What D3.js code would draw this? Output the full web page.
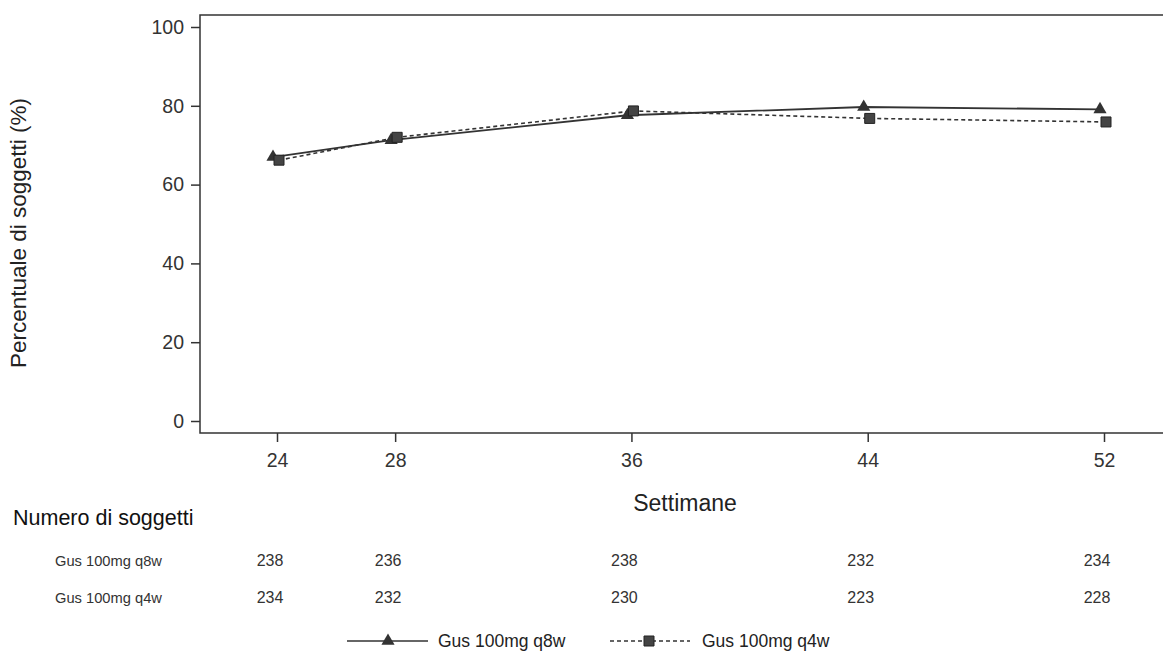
<!DOCTYPE html>
<html>
<head>
<meta charset="utf-8">
<script src="https://cdn.jsdelivr.net/npm/d3@7"></script>
<style>
  body { margin: 0; background: #fff; }
  svg { font-family: "Liberation Sans", Arial, sans-serif; }
</style>
</head>
<body>
<svg id="chart" width="1163" height="653"></svg>
<script>
// data
const weeks = [24, 28, 36, 44, 52];
const q8w = [67.0, 71.3, 77.6, 79.7, 79.1];
const q4w = [66.2, 72.0, 78.7, 76.8, 75.9];
const nQ8w = [238, 236, 238, 232, 234];
const nQ4w = [234, 232, 230, 223, 228];
const yTicks = [0, 20, 40, 60, 80, 100];
const seriesNames = ["Gus 100mg q8w", "Gus 100mg q4w"];

const svg = d3.select("#chart");
const ink = "#333";
const fontFam = "Liberation Sans, Arial, sans-serif";

const x = d3.scaleLinear().domain([24, 52]).range([277, 1104]);
const y = d3.scaleLinear().domain([0, 100]).range([421, 27]);

const plotLeft = 200, plotTop = 15, plotBottom = 433, plotRight = 1163;

// frame: top line, left axis, bottom axis
svg.append("path")
    .attr("d", `M${plotRight},${plotTop}H${plotLeft}V${plotBottom}H${plotRight}`)
    .attr("fill", "none")
    .attr("stroke", ink)
    .attr("stroke-width", 1.5);

// y axis ticks
const yAxis = svg.append("g")
    .attr("transform", `translate(${plotLeft},0)`)
    .call(d3.axisLeft(y).tickValues(yTicks).tickSize(9).tickPadding(7));
yAxis.select(".domain").remove();
yAxis.selectAll("line").attr("stroke", ink).attr("stroke-width", 1.5);
yAxis.selectAll("text").attr("font-size", 19.5).attr("fill", ink)
    .attr("font-family", fontFam);

// x axis ticks
const xAxis = svg.append("g")
    .attr("transform", `translate(0,${plotBottom})`)
    .call(d3.axisBottom(x).tickValues(weeks).tickSize(9).tickPadding(11));
xAxis.select(".domain").remove();
xAxis.selectAll("line").attr("stroke", ink).attr("stroke-width", 1.5);
xAxis.selectAll("text").attr("font-size", 19.5).attr("fill", ink)
    .attr("font-family", fontFam);

// axis titles
svg.append("text")
    .attr("transform", "translate(26,233) rotate(-90)")
    .attr("text-anchor", "middle")
    .attr("font-size", 22.5)
    .attr("fill", "#222")
    .text("Percentuale di soggetti (%)");

svg.append("text")
    .attr("x", 685).attr("y", 511)
    .attr("text-anchor", "middle")
    .attr("font-size", 23)
    .attr("fill", "#222")
    .text("Settimane");

// lines, each shifted to meet its own markers
const triShift = -4, sqShift = 2;
const lineAt = shift => d3.line()
    .x((d, i) => x(weeks[i]) + shift)
    .y(d => y(d));

svg.append("path")
    .datum(q4w)
    .attr("d", lineAt(sqShift))
    .attr("fill", "none")
    .attr("stroke", ink)
    .attr("stroke-width", 1.6)
    .attr("stroke-dasharray", "4,3");

svg.append("path")
    .datum(q8w)
    .attr("d", lineAt(triShift))
    .attr("fill", "none")
    .attr("stroke", ink)
    .attr("stroke-width", 1.8);

const triangle = d3.symbol().type(d3.symbolTriangle).size(75);
const square = d3.symbol().type(d3.symbolSquare).size(100);

svg.selectAll(".tri")
    .data(q8w)
    .join("path")
    .attr("class", "tri")
    .attr("transform", (d, i) => `translate(${x(weeks[i]) + triShift},${y(d)})`)
    .attr("d", triangle)
    .attr("fill", ink);

svg.selectAll(".sq")
    .data(q4w)
    .join("path")
    .attr("class", "sq")
    .attr("transform", (d, i) => `translate(${x(weeks[i]) + sqShift},${y(d)})`)
    .attr("d", square)
    .attr("fill", "#444")
    .attr("stroke", "#222");

// number at risk table
svg.append("text")
    .attr("x", 13).attr("y", 525)
    .attr("font-size", 21.5)
    .attr("fill", "#111")
    .text("Numero di soggetti");

const rows = [nQ8w, nQ4w];
rows.forEach((vals, r) => {
    const yy = 566 + r * 37;
    svg.append("text")
        .attr("x", 55).attr("y", yy)
        .attr("font-size", 14.7)
        .attr("fill", ink)
        .text(seriesNames[r]);
    svg.selectAll(".n" + r)
        .data(vals)
        .join("text")
        .attr("class", "n" + r)
        .attr("x", (d, i) => x(weeks[i]) - 7)
        .attr("y", yy)
        .attr("text-anchor", "middle")
        .attr("font-size", 16)
        .attr("fill", ink)
        .text(d => d);
});

// legend
const legend = svg.append("g").attr("transform", "translate(0,641)");

legend.append("line")
    .attr("x1", 347).attr("x2", 428)
    .attr("stroke", ink).attr("stroke-width", 1.5);
legend.append("path")
    .attr("transform", "translate(388,0)")
    .attr("d", triangle)
    .attr("fill", ink);
legend.append("text")
    .attr("x", 438).attr("y", 6)
    .attr("font-size", 17.5)
    .attr("fill", "#222")
    .text(seriesNames[0]);

legend.append("line")
    .attr("x1", 610).attr("x2", 690)
    .attr("stroke", ink).attr("stroke-width", 1.4)
    .attr("stroke-dasharray", "4,3");
legend.append("path")
    .attr("transform", "translate(649,0)")
    .attr("d", square)
    .attr("fill", "#444")
    .attr("stroke", "#222");
legend.append("text")
    .attr("x", 702).attr("y", 6)
    .attr("font-size", 17.5)
    .attr("fill", "#222")
    .text(seriesNames[1]);
</script>
</body>
</html>
